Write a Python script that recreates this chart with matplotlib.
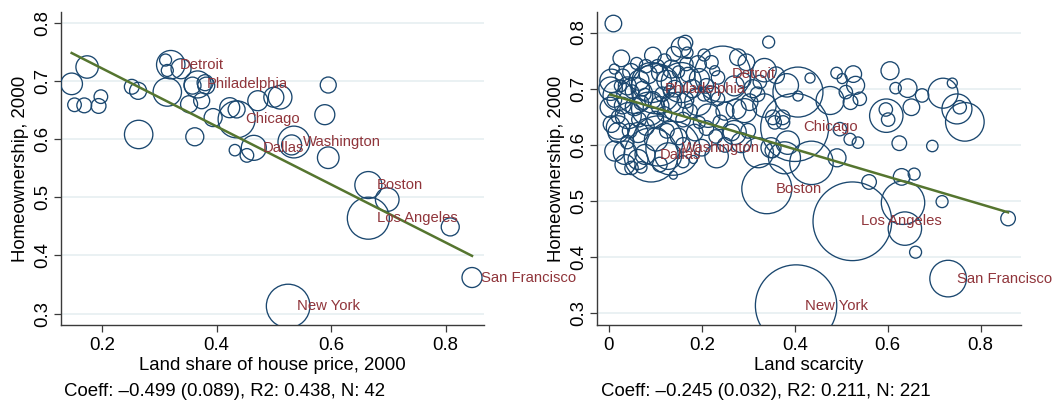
import numpy as np
import matplotlib
matplotlib.use("Agg")
import matplotlib.pyplot as plt
from matplotlib.ticker import FuncFormatter

plt.rcParams['font.family'] = ['Liberation Sans', 'DejaVu Sans']

# ---- left panel: land share of house price (42 metros) ----
land_share = [0.147, 0.174, 0.152, 0.169, 0.194, 0.198, 0.252, 0.263, 0.264, 0.314,
              0.320, 0.311, 0.314, 0.338, 0.352, 0.362, 0.374, 0.358, 0.367, 0.382,
              0.394, 0.423, 0.435, 0.435, 0.432, 0.453, 0.465, 0.472, 0.500, 0.511,
              0.531, 0.535, 0.589, 0.595, 0.595, 0.665, 0.698, 0.665, 0.808, 0.846,
              0.525, 0.380]
own_left = [0.695, 0.724, 0.659, 0.658, 0.657, 0.673, 0.690, 0.683, 0.608, 0.681,
            0.728, 0.736, 0.718, 0.721, 0.660, 0.604, 0.666, 0.692, 0.694, 0.692,
            0.637, 0.654, 0.651, 0.634, 0.581, 0.572, 0.585, 0.666, 0.672, 0.672,
            0.590, 0.595, 0.642, 0.693, 0.568, 0.521, 0.496, 0.464, 0.449, 0.362,
            0.313, 0.697]
pop_left = [2286, 2459, 906, 1073, 1073, 906, 1073, 1416, 3952, 3952,
            3952, 706, 706, 1960, 1416, 1588, 1254, 1416, 3572, 1416,
            1588, 1960, 1416, 6708, 637, 906, 3063, 1960, 1960, 2729,
            1960, 4955, 1960, 1254, 2286, 3572, 2729, 8644, 1588, 1960,
            9314, 1254]
names_left = {10: 'Detroit', 18: 'Philadelphia', 23: 'Chicago', 26: 'Dallas',
              31: 'Washington', 35: 'Boston', 37: 'Los Angeles',
              39: 'San Francisco', 40: 'New York'}
fit_left = (0.8214, -0.499)
note_left = 'Coeff: \u20130.499 (0.089), R2: 0.438, N: 42'

# ---- right panel: land scarcity ----
right_pts = [
    # top of the cloud
    (0.010, 0.816, 387), (0.027, 0.754, 387), (0.012, 0.735, 141), (0.060, 0.745, 202),
    (0.095, 0.759, 387), (0.080, 0.740, 252), (0.120, 0.750, 252), (0.140, 0.762, 300),
    (0.156, 0.774, 562), (0.165, 0.782, 300), (0.169, 0.764, 183), (0.167, 0.744, 252),
    (0.192, 0.744, 387), (0.221, 0.747, 252), (0.228, 0.732, 141), (0.205, 0.760, 202),
    (0.278, 0.756, 387), (0.296, 0.747, 387), (0.344, 0.783, 202), (0.335, 0.733, 770),
    (0.360, 0.724, 387), (0.245, 0.726, 4408),
    # upper cluster
    (0.006, 0.714, 770), (0.004, 0.700, 770), (0.020, 0.688, 1265), (0.030, 0.722, 300),
    (0.040, 0.705, 455), (0.048, 0.730, 387), (0.056, 0.688, 1822), (0.065, 0.715, 562),
    (0.072, 0.700, 300), (0.085, 0.725, 455), (0.092, 0.711, 2249), (0.102, 0.700, 3514),
    (0.110, 0.728, 387), (0.115, 0.690, 300), (0.125, 0.715, 562), (0.135, 0.735, 455),
    (0.142, 0.700, 387), (0.156, 0.711, 2249), (0.170, 0.725, 300), (0.180, 0.700, 455),
    (0.195, 0.718, 562), (0.210, 0.705, 300), (0.222, 0.690, 387), (0.235, 0.720, 252),
    (0.270, 0.705, 562), (0.290, 0.715, 300), (0.310, 0.700, 455), (0.325, 0.712, 252),
    (0.050, 0.695, 252), (0.025, 0.705, 202), (0.078, 0.690, 202), (0.105, 0.740, 252),
    (0.130, 0.695, 183), (0.150, 0.730, 202),
    # middle band
    (0.003, 0.667, 562), (0.012, 0.680, 300), (0.030, 0.670, 387), (0.042, 0.652, 950),
    (0.055, 0.668, 455), (0.070, 0.675, 300), (0.085, 0.664, 1568), (0.095, 0.680, 387),
    (0.110, 0.670, 455), (0.120, 0.655, 300), (0.135, 0.675, 562), (0.149, 0.667, 1265),
    (0.165, 0.680, 387), (0.175, 0.660, 300), (0.192, 0.676, 995), (0.205, 0.690, 252),
    (0.214, 0.652, 770), (0.235, 0.682, 252), (0.250, 0.660, 455), (0.274, 0.664, 562),
    (0.292, 0.661, 810), (0.303, 0.676, 387), (0.335, 0.670, 770), (0.320, 0.690, 300),
    (0.357, 0.640, 252), (0.353, 0.649, 300), (0.374, 0.649, 300), (0.065, 0.645, 300),
    (0.100, 0.645, 387), (0.160, 0.645, 300), (0.020, 0.650, 252), (0.240, 0.640, 300),
    (0.195, 0.640, 202),
    # lower band
    (0.006, 0.637, 387), (0.020, 0.631, 770), (0.020, 0.622, 562), (0.045, 0.625, 300),
    (0.063, 0.622, 562), (0.080, 0.632, 387), (0.102, 0.610, 770), (0.125, 0.625, 300),
    (0.150, 0.615, 387), (0.185, 0.622, 387), (0.210, 0.630, 300), (0.230, 0.615, 252),
    (0.264, 0.622, 387), (0.270, 0.622, 810), (0.285, 0.604, 562), (0.300, 0.625, 300),
    (0.013, 0.589, 562), (0.035, 0.586, 770), (0.040, 0.605, 252), (0.078, 0.583, 562),
    (0.091, 0.582, 4099), (0.106, 0.607, 3514), (0.138, 0.594, 4099), (0.128, 0.580, 995),
    (0.160, 0.600, 300), (0.200, 0.595, 387), (0.232, 0.580, 770), (0.250, 0.600, 300),
    (0.322, 0.586, 1265), (0.349, 0.595, 562), (0.352, 0.590, 300), (0.378, 0.577, 1440),
    (0.385, 0.604, 770), (0.035, 0.565, 562), (0.049, 0.559, 252), (0.063, 0.574, 562),
    (0.139, 0.546, 90), (0.182, 0.574, 90), (0.070, 0.560, 183), (0.110, 0.565, 300),
    (0.160, 0.570, 202),
    # right of the cloud
    (0.383, 0.706, 770), (0.407, 0.694, 3514), (0.433, 0.719, 141), (0.407, 0.687, 141),
    (0.476, 0.679, 1102), (0.490, 0.728, 183), (0.526, 0.726, 387), (0.502, 0.718, 141),
    (0.531, 0.706, 455), (0.510, 0.694, 252), (0.540, 0.682, 252), (0.520, 0.676, 300),
    (0.605, 0.732, 455), (0.617, 0.701, 183), (0.643, 0.701, 486), (0.674, 0.688, 252),
    (0.597, 0.652, 1568), (0.596, 0.663, 252), (0.601, 0.645, 252), (0.651, 0.667, 387),
    (0.719, 0.692, 1265), (0.739, 0.710, 141), (0.749, 0.664, 1265), (0.755, 0.667, 252),
    (0.766, 0.641, 2095), (0.625, 0.603, 300), (0.696, 0.598, 183), (0.519, 0.610, 202),
    (0.536, 0.604, 183), (0.497, 0.628, 252), (0.491, 0.577, 455), (0.375, 0.640, 252),
    (0.400, 0.631, 6500), (0.436, 0.568, 2648),
    # lower right
    (0.633, 0.497, 2648), (0.637, 0.451, 1568), (0.660, 0.409, 202), (0.859, 0.469, 300),
    (0.717, 0.499, 202), (0.560, 0.534, 300), (0.630, 0.543, 387), (0.657, 0.548, 202),
    (0.340, 0.522, 3514), (0.524, 0.464, 8700), (0.730, 0.362, 1883), (0.403, 0.314, 9314),
]
scarcity = [p[0] for p in right_pts]
own_right = [p[1] for p in right_pts]
pop_right = [p[2] for p in right_pts]
names_right = {(0.245, 0.726): 'Detroit', (0.102, 0.700): 'Philadelphia',
               (0.400, 0.631): 'Chicago', (0.138, 0.594): 'Washington',
               (0.091, 0.582): 'Dallas', (0.340, 0.522): 'Boston',
               (0.524, 0.464): 'Los Angeles', (0.730, 0.362): 'San Francisco',
               (0.403, 0.314): 'New York'}
fit_right = (0.6904, -0.245)
note_right = 'Coeff: \u20130.245 (0.032), R2: 0.211, N: 221'

navy = '#1a476f'
maroon = '#90353b'
green = '#55752f'
FS = 13.4


def bubble_sizes(pop, px_per_sqrt):
    d_pt = 2 * px_per_sqrt * np.sqrt(np.asarray(pop, float)) * 72 / 100
    return d_pt ** 2


def panel(ax, x, y, pop, k, fit, labels, xlim, xticks, xlabel):
    ax.scatter(x, y, s=bubble_sizes(pop, k), facecolors='none', edgecolors=navy,
               linewidths=0.95, zorder=3)
    xs = np.array([min(x), max(x)])
    ax.plot(xs, fit[0] + fit[1] * xs, color=green, lw=1.8, zorder=4)
    for (px, py), name in labels:
        ax.annotate(name, (px, py), xytext=(6.3, 0), textcoords='offset points',
                    va='center', ha='left', color=maroon, fontsize=10.7, zorder=5,
                    annotation_clip=False)
    ax.set_xlim(*xlim)
    ax.set_xticks(xticks)
    ax.set_yticks([0.3, 0.4, 0.5, 0.6, 0.7, 0.8])
    fmt = FuncFormatter(lambda v, p: '0' if abs(v) < 1e-9 else f'{v:g}')
    ax.xaxis.set_major_formatter(fmt)
    ax.yaxis.set_major_formatter(fmt)
    ax.grid(axis='y', color='#e6eff1', lw=1.2, zorder=0)
    ax.set_axisbelow(True)
    for side in ('top', 'right'):
        ax.spines[side].set_visible(False)
    for side in ('left', 'bottom'):
        ax.spines[side].set_color('#3a3a3a')
        ax.spines[side].set_linewidth(1.0)
    ax.tick_params(axis='both', labelsize=FS, length=5.3, width=0.9, color='#3a3a3a')
    ax.tick_params(axis='x', pad=3.5)
    ax.tick_params(axis='y', pad=1.5)
    for t in ax.get_yticklabels():
        t.set_rotation(90)
        t.set_va('center')
    ax.set_xlabel(xlabel, fontsize=FS, labelpad=2)
    ax.set_ylabel('Homeownership, 2000', fontsize=FS, labelpad=4)


fig = plt.figure(figsize=(10.55, 4.05), dpi=100)
ax1 = fig.add_axes([0.0576, 0.197, 0.4012, 0.774])
ax2 = fig.add_axes([0.5659, 0.197, 0.4014, 0.774])

lab1 = [((land_share[i], own_left[i]), n) for i, n in names_left.items()]
panel(ax1, land_share, own_left, pop_left, 0.2259, fit_left, lab1,
      (0.128, 0.867), [0.2, 0.4, 0.6, 0.8], 'Land share of house price, 2000')
ax1.set_ylim(0.28, 0.819)

lab2 = [(xy, n) for xy, n in names_right.items()]
panel(ax2, scarcity, own_right, pop_right, 0.4217, fit_right, lab2,
      (-0.0252, 0.8857), [0, 0.2, 0.4, 0.6, 0.8], 'Land scarcity')
ax2.set_ylim(0.279, 0.837)

fig.text(0.0607, 0.0215, note_left, fontsize=FS, va='baseline', ha='left')
fig.text(0.5697, 0.0215, note_right, fontsize=FS, va='baseline', ha='left')

fig.savefig('out.png', dpi=100)
